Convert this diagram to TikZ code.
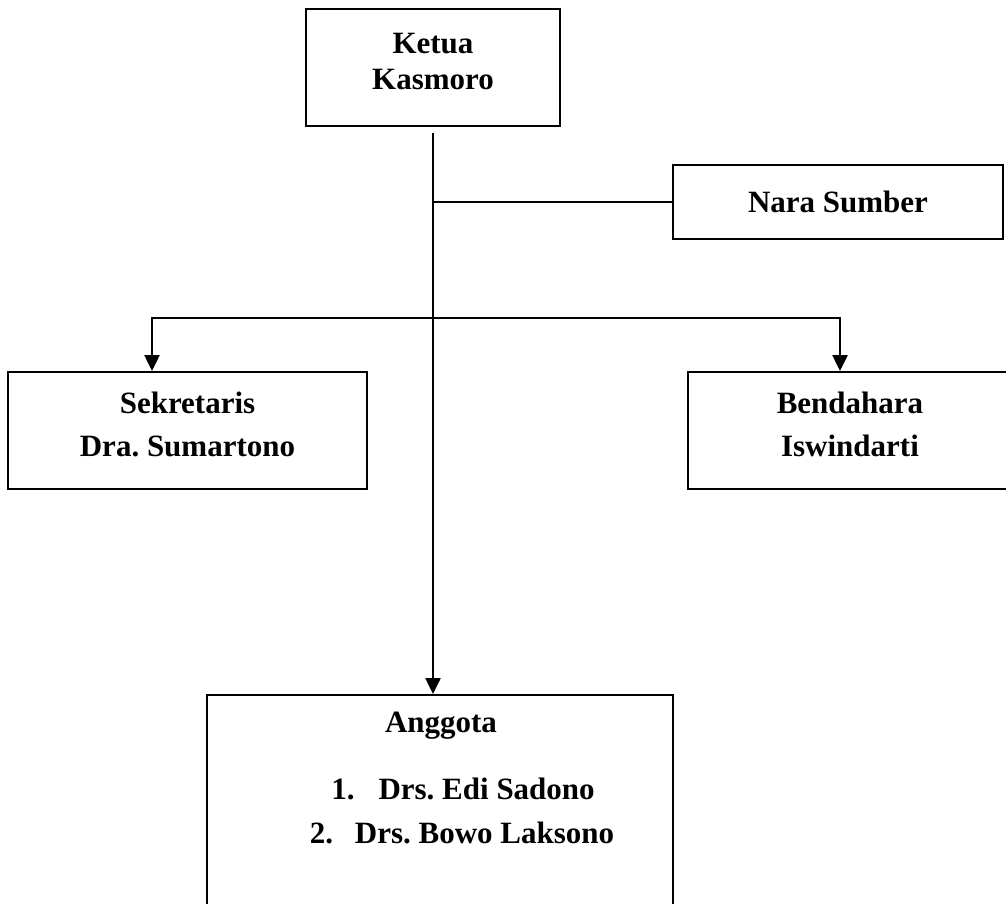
\documentclass[tikz,border=0pt]{standalone}
\usepackage{fontspec}
\setmainfont{Liberation Serif}
\usetikzlibrary{arrows.meta}
\frenchspacing

\begin{document}
\begin{tikzpicture}[x=1pt, y=-1pt,
  orgbox/.style={rectangle, draw, line width=2pt, align=center, inner sep=0pt,
    font=\fontsize{31}{36}\selectfont\bfseries},
  lbl/.style={inner sep=0pt, align=center, font=\fontsize{31}{36}\selectfont\bfseries},
  conn/.style={line width=2.5pt},
  arr/.style={conn, -{Triangle[length=16pt, width=15pt]}}]
  \clip (0,0) rectangle (1006,903);

  \node[orgbox, minimum width=254pt, minimum height=117pt] (K) at (433,67.5) {};
  \node[orgbox, minimum width=330pt, minimum height=74pt] (NS) at (838,202) {Nara Sumber};
  \node[orgbox, minimum width=359pt, minimum height=117pt] (S) at (187.5,430.5) {};
  \node[orgbox, minimum width=324pt, minimum height=117pt] (B) at (850,430.5) {};
  \node[orgbox, minimum width=466pt, minimum height=225pt] (A) at (440,807.5) {};

  % teks di dalam kotak
  \node[lbl] (Kt) at (433,61) {Ketua\\Kasmoro};
  \node[lbl] (St) at (187.5,424) {Sekretaris\\[7pt]Dra. Sumartono};
  \node[lbl] (Bt) at (850,424) {Bendahara\\[7pt]Iswindarti};
  \node[lbl] (ang) at (441,726) {Anggota};
  \node[lbl] (m1) at (463,789) {1.\hspace{24pt}Drs. Edi Sadono};
  \node[lbl] (m2) at (462,833) {2.\hspace{22pt}Drs. Bowo Laksono};

  \coordinate (split) at (433,318);
  \draw[arr, shorten <=6pt] (K) -- (K |- A.north);
  \draw[conn] (K |- NS.west) -- (NS.west);
  \draw[arr] (split) -| ([xshift=-35.5pt]S.north);
  \draw[arr] (split) -| ([xshift=-10pt]B.north);
\end{tikzpicture}
\end{document}
